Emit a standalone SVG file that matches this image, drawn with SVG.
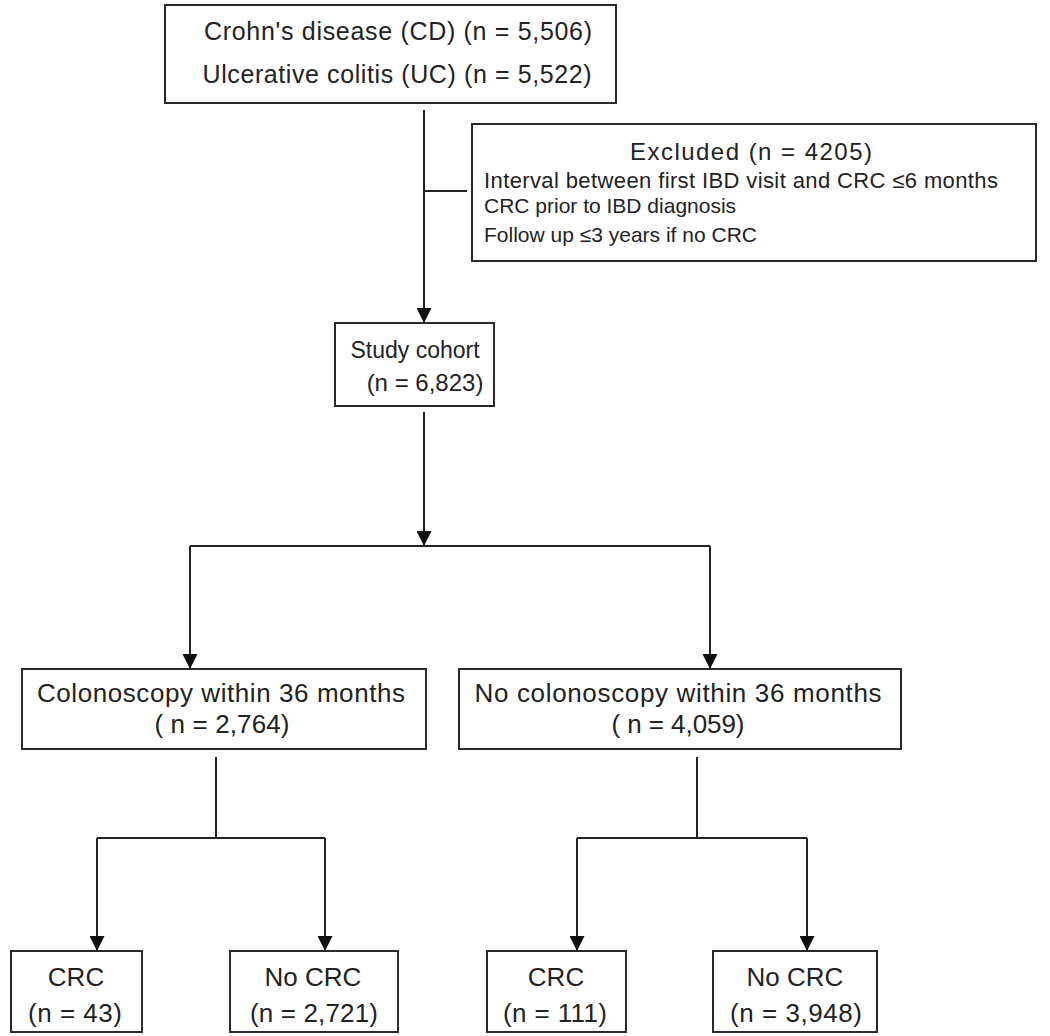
<svg xmlns="http://www.w3.org/2000/svg" width="1050" height="1036" viewBox="0 0 1050 1036">
<style>
.box{fill:#fff;stroke:#2a2a2a;stroke-width:2}
.t{font-family:"Liberation Sans",Arial,sans-serif;fill:#222;text-anchor:middle}
.tl{font-family:"Liberation Sans",Arial,sans-serif;fill:#222;text-anchor:start}
.c{fill:none;stroke:#222;stroke-width:2}
</style>
<defs>
<marker id="ah" viewBox="0 0 10 10" refX="10" refY="5" markerWidth="16" markerHeight="15" markerUnits="userSpaceOnUse" orient="auto">
<path d="M0,0 L10,5 L0,10 z" fill="#111"/>
</marker>
</defs>
<rect width="1050" height="1036" fill="#fff"/>

<g id="connectors">
<line class="c" x1="424" y1="110" x2="424" y2="323" marker-end="url(#ah)"/>
<line class="c" x1="424" y1="191" x2="467" y2="191"/>
<line class="c" x1="424" y1="412" x2="424" y2="546" marker-end="url(#ah)"/>
<line class="c" x1="190" y1="546" x2="710" y2="546"/>
<line class="c" x1="190" y1="546" x2="190" y2="669" marker-end="url(#ah)"/>
<line class="c" x1="710" y1="546" x2="710" y2="669" marker-end="url(#ah)"/>
<line class="c" x1="216" y1="757" x2="216" y2="838"/>
<line class="c" x1="97" y1="838" x2="325" y2="838"/>
<line class="c" x1="97" y1="838" x2="97" y2="951" marker-end="url(#ah)"/>
<line class="c" x1="325" y1="838" x2="325" y2="951" marker-end="url(#ah)"/>
<line class="c" x1="697" y1="757" x2="697" y2="838"/>
<line class="c" x1="577" y1="838" x2="807" y2="838"/>
<line class="c" x1="577" y1="838" x2="577" y2="951" marker-end="url(#ah)"/>
<line class="c" x1="807" y1="838" x2="807" y2="951" marker-end="url(#ah)"/>
</g>

<g id="n-ibd">
<rect class="box" x="165" y="5" width="451" height="98"/>
<text class="t" x="398" y="40" font-size="25" textLength="388">Crohn's disease (CD) (n = 5,506)</text>
<text class="t" x="397" y="83" font-size="25" textLength="389">Ulcerative colitis (UC) (n = 5,522)</text>
</g>

<g id="n-excluded">
<rect class="box" x="472" y="124" width="564" height="137"/>
<text class="t" x="751" y="160" font-size="24" textLength="242">Excluded (n = 4205)</text>
<text class="tl" x="484" y="188" font-size="22" textLength="514">Interval between first IBD visit and CRC ≤6 months</text>
<text class="tl" x="484" y="213" font-size="21">CRC prior to IBD diagnosis</text>
<text class="tl" x="484" y="242" font-size="21">Follow up ≤3 years if no CRC</text>
</g>

<g id="n-cohort">
<rect class="box" x="335" y="323" width="159" height="83"/>
<text class="t" x="415" y="358" font-size="23">Study cohort</text>
<text class="t" x="425" y="391" font-size="24">(n = 6,823)</text>
</g>

<g id="n-colo">
<rect class="box" x="22" y="669" width="404" height="80"/>
<text class="t" x="221" y="702" font-size="26" textLength="368">Colonoscopy within 36 months</text>
<text class="t" x="222" y="733" font-size="26" textLength="135">( n = 2,764)</text>
</g>

<g id="n-nocolo">
<rect class="box" x="459" y="669" width="442" height="80"/>
<text class="t" x="678" y="702" font-size="26" textLength="407">No colonoscopy within 36 months</text>
<text class="t" x="678" y="733" font-size="26" textLength="133">( n = 4,059)</text>
</g>

<g id="n-crc1">
<rect class="box" x="11" y="951" width="131" height="81"/>
<text class="t" x="76" y="986" font-size="26">CRC</text>
<text class="t" x="75" y="1022" font-size="26" textLength="94">(n = 43)</text>
</g>

<g id="n-nocrc1">
<rect class="box" x="230" y="951" width="168" height="81"/>
<text class="t" x="313" y="986" font-size="26">No CRC</text>
<text class="t" x="314" y="1022" font-size="26" textLength="128">(n = 2,721)</text>
</g>

<g id="n-crc2">
<rect class="box" x="487" y="951" width="139" height="81"/>
<text class="t" x="556" y="986" font-size="26">CRC</text>
<text class="t" x="555" y="1022" font-size="26" textLength="104">(n = 111)</text>
</g>

<g id="n-nocrc2">
<rect class="box" x="713" y="951" width="164" height="81"/>
<text class="t" x="795" y="986" font-size="26">No CRC</text>
<text class="t" x="796" y="1022" font-size="26" textLength="132">(n = 3,948)</text>
</g>
</svg>
